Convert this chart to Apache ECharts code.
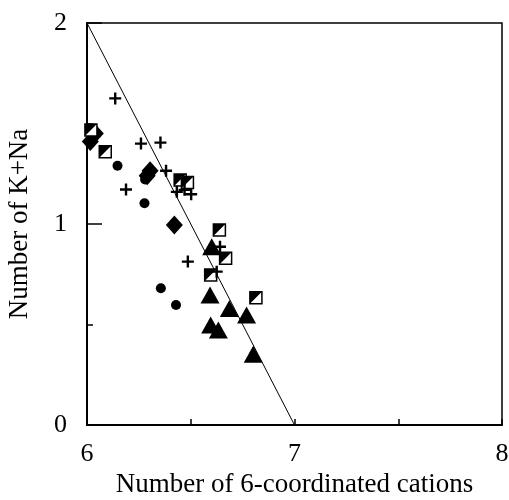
<!DOCTYPE html>
<html>
<head>
<meta charset="utf-8">
<script src="https://cdn.jsdelivr.net/npm/echarts@6/dist/echarts.min.js"></script>
<style>
  html, body { margin: 0; padding: 0; background: #fff; }
  #chart { width: 509px; height: 500px; }
</style>
</head>
<body>
<div id="chart"></div>
<script>
// data: [six-coordinated cations, K+Na]
const plusPts = [
  [6.136, 1.625], [6.26, 1.40], [6.354, 1.405], [6.381, 1.265],
  [6.188, 1.172], [6.433, 1.16], [6.47, 1.17], [6.502, 1.148],
  [6.486, 0.813], [6.641, 0.887], [6.625, 0.763]
]
const circlePts = [
  [6.147, 1.29], [6.28, 1.222], [6.277, 1.103], [6.356, 0.68], [6.429, 0.597]
]
const diamondPts = [
  [6.016, 1.41], [6.04, 1.45], [6.304, 1.265], [6.29, 1.24], [6.421, 0.995]
]
const halfSquarePts = [
  [6.019, 1.468], [6.088, 1.36], [6.449, 1.219], [6.484, 1.206],
  [6.638, 0.97], [6.668, 0.829], [6.596, 0.746], [6.814, 0.633]
]
const trianglePts = [
  [6.601, 0.887], [6.593, 0.647], [6.686, 0.58], [6.769, 0.547],
  [6.596, 0.498], [6.633, 0.473], [6.801, 0.352]
]
const trendLine = [[6, 2], [7, 0]]

const xName = 'Number of 6-coordinated cations'
const yName = 'Number of K+Na'

const chart = echarts.init(document.getElementById('chart'))
const font = 'Liberation Serif'

const plusPath = 'path://M4,0 H6 V4 H10 V6 H6 V10 H4 V6 H0 V4 H4 Z'
const cornerPath = 'path://M0,0 L10,0 L0,10 Z'
const solid = { color: '#000', opacity: 1 }

const option = {
  animation: false,
  grid: {
    left: 87, right: 7, top: 23, bottom: 75,
    outerBoundsMode: 'none', containLabel: false,
    show: true, borderColor: '#000', borderWidth: 1.5
  },
  xAxis: {
    type: 'value', min: 6, max: 8, interval: 1,
    name: xName, nameLocation: 'middle', nameGap: 44,
    nameTextStyle: { fontFamily: font, fontSize: 27, color: '#000' },
    axisLine: { lineStyle: { color: '#000', width: 2 } },
    axisTick: { inside: true, length: 6, lineStyle: { color: '#000', width: 1.5 } },
    minorTick: { show: true, splitNumber: 2, length: 6, lineStyle: { color: '#000', width: 1.5 } },
    axisLabel: { fontFamily: font, fontSize: 26, color: '#000', margin: 16 },
    splitLine: { show: false }
  },
  yAxis: {
    type: 'value', min: 0, max: 2, interval: 1,
    name: yName, nameLocation: 'middle', nameGap: 54,
    nameTextStyle: { fontFamily: font, fontSize: 27, color: '#000' },
    axisLine: { lineStyle: { color: '#000', width: 2 } },
    axisTick: { inside: true, length: 15, lineStyle: { color: '#000', width: 1.5 } },
    minorTick: { show: true, splitNumber: 2, length: 6, lineStyle: { color: '#000', width: 1.5 } },
    axisLabel: { fontFamily: font, fontSize: 26, color: '#000', margin: 20 },
    splitLine: { show: false }
  },
  series: [
    {
      type: 'line', data: trendLine, symbol: 'none',
      lineStyle: { color: '#000', width: 1 }, z: 1
    },
    {
      type: 'scatter', data: circlePts, symbol: 'circle', symbolSize: 10,
      itemStyle: solid
    },
    {
      type: 'scatter', data: diamondPts, symbol: 'diamond', symbolSize: [17, 19],
      itemStyle: solid
    },
    {
      type: 'scatter', data: halfSquarePts, symbol: 'rect', symbolSize: 12,
      itemStyle: { color: '#fff', opacity: 1, borderColor: '#000', borderWidth: 1.5 }
    },
    {
      type: 'scatter', data: halfSquarePts, symbol: cornerPath, symbolSize: 12,
      itemStyle: solid
    },
    {
      type: 'scatter', data: trianglePts, symbol: 'triangle', symbolSize: [19, 17],
      itemStyle: solid
    },
    {
      type: 'scatter', data: plusPts, symbol: plusPath, symbolSize: 12,
      itemStyle: solid
    }
  ]
}

chart.setOption(option)
</script>
</body>
</html>
